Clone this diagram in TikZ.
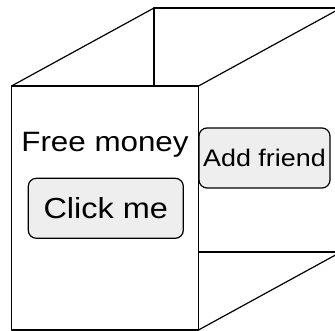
\documentclass[tikz,border=0pt]{standalone}
\usepackage{fontspec}
\setmainfont{Liberation Sans}[FakeStretch=1.12]
\definecolor{btngray}{HTML}{EEEEEE}
\begin{document}
\begin{tikzpicture}[x=1pt,y=-1pt,
  edge/.style={line width=1.2pt, draw=black, line join=round},
  button/.style={draw=black, fill=btngray, line width=1.2pt, rounded corners=8pt, inner sep=0pt},
]
\useasboundingbox (0,0) rectangle (335,331);
\clip (0,0) rectangle (335,331);
\coordinate (FTL) at (11.5,86);
\coordinate (FTR) at (198.5,86);
\coordinate (FBL) at (11.5,330);
\coordinate (FBR) at (198.5,330);
\coordinate (BTL) at (154,8);
\coordinate (BTR) at (341,8);
\coordinate (BBL) at (154,252);
\coordinate (BBR) at (341,252);
% back face and depth edges
\draw[edge] (BTL) -- (BTR) -- (BBR) -- (BBL) -- cycle;
\draw[edge] (FTL) -- (BTL);
\draw[edge] (FTR) -- (BTR);
\draw[edge] (FBR) -- (BBR);
% button behind the front face
\node[button, minimum width=131pt, minimum height=60pt] (add) at (264.5,158) {\fontsize{24}{28}\selectfont Add friend};
% front face
\draw[edge, fill=white] (FTL) rectangle (FBR);
\node[anchor=base, inner sep=0pt] (free) at (105,151.7) {\fontsize{28}{32}\selectfont Free money};
\node[button, minimum width=155pt, minimum height=60pt] (click) at (105.8,208.3) {\fontsize{29}{34}\selectfont Click me};
\end{tikzpicture}
\end{document}
